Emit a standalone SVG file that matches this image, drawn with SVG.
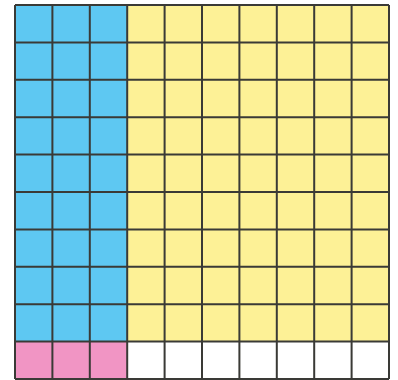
<svg xmlns="http://www.w3.org/2000/svg" width="398" height="380" viewBox="0 0 398 380">
<style>
.b{fill:#5ec8f2}
.y{fill:#fdf196}
.p{fill:#f195c4}
.w{fill:#ffffff}
.g{stroke:#3a3a36;stroke-width:2;fill:none}
</style>
<rect width="398" height="380" fill="#ffffff"/>
<g id="blue"><rect class="b" x="15" y="5" width="112.2" height="336.6"/></g>
<g id="yellow"><rect class="y" x="127.2" y="5" width="261.8" height="336.6"/></g>
<g id="pink"><rect class="p" x="15" y="341.6" width="112.2" height="37.4"/></g>
<g id="white"><rect class="w" x="127.2" y="341.6" width="261.8" height="37.4"/></g>
<g id="grid" class="g">
<path d="M15 5V379M52.4 5V379M89.8 5V379M127.2 5V379M164.6 5V379M202 5V379M239.4 5V379M276.8 5V379M314.2 5V379M351.6 5V379M389 5V379"/>
<path d="M15 5H389M15 42.4H389M15 79.8H389M15 117.2H389M15 154.6H389M15 192H389M15 229.4H389M15 266.8H389M15 304.2H389M15 341.6H389M15 379H389"/>
</g>
</svg>
